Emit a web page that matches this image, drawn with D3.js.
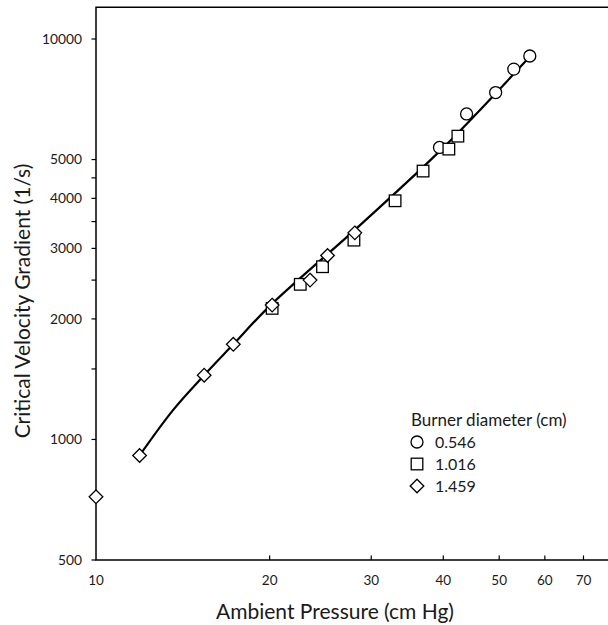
<!DOCTYPE html>
<html>
<head>
<meta charset="utf-8">
<script src="https://cdn.jsdelivr.net/npm/d3@7"></script>
<style>
  html, body { margin: 0; padding: 0; background: #fff; }
  text { font-family: Lato, "Open Sans", sans-serif; fill: #1a1a1a; }
</style>
</head>
<body>
<svg id="chart" width="608" height="625"></svg>
<script>
// ---- data ----
const circleX = [56.5, 53.0, 49.3, 43.9, 39.4];
const circleY = [9070, 8410, 7350, 6500, 5360];

const squareX = [42.4, 40.9, 36.9, 33.0, 28.0, 24.7, 22.6, 20.2];
const squareY = [5720, 5310, 4680, 3945, 3146, 2700, 2440, 2125];

const diamondX = [28.1, 25.2, 23.5, 20.2, 17.3, 15.4, 11.9, 10.0];
const diamondY = [3280, 2880, 2500, 2165, 1728, 1447, 912, 719];

// fitted curve
const curveX = [11.9, 13.6, 15.4, 17.3, 20.0, 28.7, 40.0, 55.8];
const curveY = [912, 1184, 1447, 1728, 2153, 3430, 5354, 8860];

const xTicks = [10, 20, 30, 40, 50, 60, 70];
const yTickLabels = [500, 1000, 2000, 3000, 4000, 5000, 10000];
const yMinorTicks = [1500, 2500, 3500, 4500];

const legendTitle = "Burner diameter (cm)";
const legendLabels = ["0.546", "1.016", "1.459"];
const xTitle = "Ambient Pressure (cm Hg)";
const yTitle = "Critical Velocity Gradient (1/s)";

// ---- layout ----
const svg = d3.select("#chart");
const pLeft = 96, pRight = 608, pTop = 7.3, pBottom = 560;

const x = d3.scaleLog().domain([10, 77.2]).range([pLeft, pRight]);
const y = d3.scaleLog().domain([500, 12000]).range([pBottom, pTop]);

// frame (top + left + bottom)
svg.append("path")
  .attr("d", `M${pRight},${pTop}H${pLeft}V${pBottom}H${pRight}`)
  .attr("fill", "none").attr("stroke", "#000").attr("stroke-width", 1.5);

// x ticks (inside)
const xAxis = svg.append("g");
xAxis.selectAll("line").data(xTicks.slice(1)).join("line")
  .attr("x1", d => x(d)).attr("x2", d => x(d))
  .attr("y1", pBottom).attr("y2", pBottom - 4.5)
  .attr("stroke", "#000").attr("stroke-width", 1.2);
xAxis.selectAll("text").data(xTicks).join("text")
  .attr("x", d => x(d)).attr("y", 584.5)
  .attr("text-anchor", "middle").attr("font-size", 13.5)
  .text(d => d);

// y ticks
const yAxis = svg.append("g");
yAxis.selectAll("line").data(yTickLabels.concat(yMinorTicks)).join("line")
  .attr("x1", pLeft - 4.5).attr("x2", pLeft)
  .attr("y1", d => y(d)).attr("y2", d => y(d))
  .attr("stroke", "#000").attr("stroke-width", 1.2);
yAxis.selectAll("text").data(yTickLabels).join("text")
  .attr("x", 82).attr("y", d => y(d) + 4.7)
  .attr("text-anchor", "end").attr("font-size", 13.8)
  .text(d => d);

// titles
svg.append("text").attr("x", 335).attr("y", 619)
  .attr("text-anchor", "middle").attr("font-size", 21).text(xTitle);
svg.append("text")
  .attr("transform", "translate(30,301) rotate(-90)")
  .attr("text-anchor", "middle").attr("font-size", 21).text(yTitle);

// curve
const line = d3.line().x(d => x(d[0])).y(d => y(d[1])).curve(d3.curveCatmullRom);
svg.append("path")
  .datum(d3.zip(curveX, curveY))
  .attr("d", line)
  .attr("fill", "none").attr("stroke", "#000").attr("stroke-width", 2.2);

// markers
const mstroke = { fill: "#fff", stroke: "#000", sw: 1.3 };
function circle(g, cx, cy) {
  g.append("circle").attr("cx", cx).attr("cy", cy).attr("r", 6)
    .attr("fill", mstroke.fill).attr("stroke", mstroke.stroke).attr("stroke-width", mstroke.sw);
}
function square(g, cx, cy) {
  g.append("rect").attr("x", cx - 5.8).attr("y", cy - 5.8).attr("width", 11.6).attr("height", 11.6)
    .attr("fill", mstroke.fill).attr("stroke", mstroke.stroke).attr("stroke-width", mstroke.sw);
}
function diamond(g, cx, cy) {
  const r = 6.8;
  g.append("path").attr("d", `M${cx},${cy - r}L${cx + r},${cy}L${cx},${cy + r}L${cx - r},${cy}Z`)
    .attr("fill", mstroke.fill).attr("stroke", mstroke.stroke).attr("stroke-width", mstroke.sw);
}
const gm = svg.append("g");
circleX.forEach((v, i) => circle(gm, x(v), y(circleY[i])));
squareX.forEach((v, i) => square(gm, x(v), y(squareY[i])));
diamondX.forEach((v, i) => diamond(gm, x(v), y(diamondY[i])));

// legend
const lg = svg.append("g");
lg.append("text").attr("x", 411).attr("y", 425.8).attr("font-size", 17).text(legendTitle);
const ly = [442, 464, 486];
circle(lg, 417, ly[0]);
square(lg, 417, ly[1]);
diamond(lg, 417, ly[2]);
legendLabels.forEach((t, i) => {
  lg.append("text").attr("x", 435).attr("y", ly[i] + 5.5).attr("font-size", 16).text(t);
});
</script>
</body>
</html>
